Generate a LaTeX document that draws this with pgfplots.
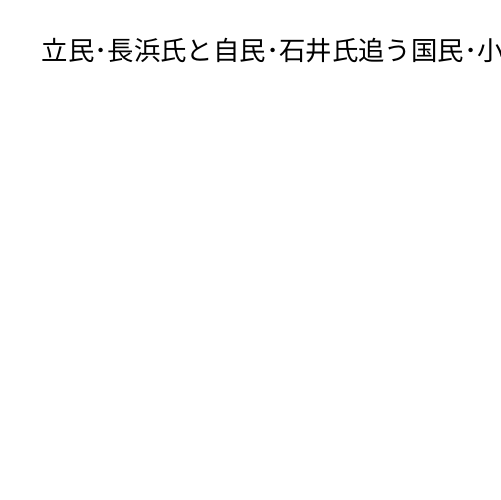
\documentclass[border=0pt]{standalone}
\usepackage{pgfplots}
\pgfplotsset{compat=1.18}
\usepackage{fontspec}
\newfontfamily\cjk{Noto Sans CJK JP}
\begin{document}
\begin{tikzpicture}[x=1bp,y=1bp]
\begin{axis}[
  at={(0,0)}, anchor=south west,
  width=500bp, height=500bp,
  scale only axis,
  hide axis,
  xmin=0, xmax=1, ymin=0, ymax=1,
  title={\cjk\fontsize{26.4bp}{30bp}\selectfont 立民･長浜氏と自民･石井氏追う国民･小},
  title style={at={(axis description cs:0.083,0.867)}, anchor=base west,
    inner sep=0pt, align=left},
]
\addplot[draw=none] coordinates {(0,0) (1,1)};
\end{axis}
\pgfresetboundingbox
\path[use as bounding box] (0,0) rectangle (500,500);
\end{tikzpicture}
\end{document}
